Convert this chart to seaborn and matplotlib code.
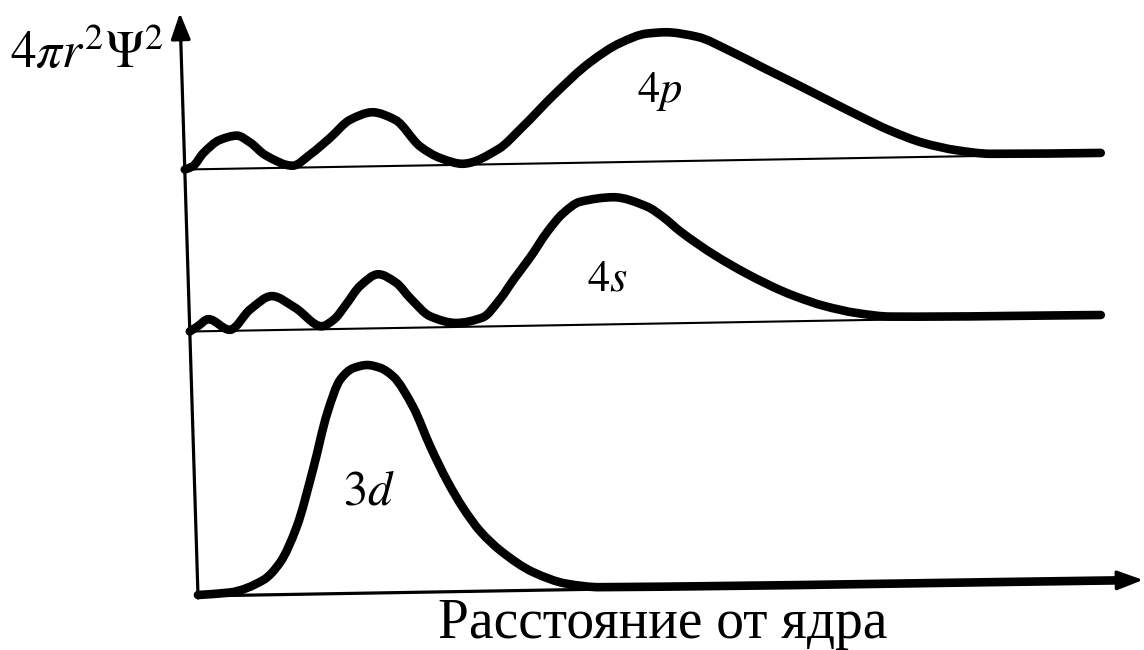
import numpy as np
import matplotlib
matplotlib.use("Agg")
import matplotlib.pyplot as plt
from matplotlib.path import Path
from matplotlib.patches import PathPatch
from matplotlib.transforms import Affine2D
import seaborn as sns

# Radial distribution 4πr²Ψ² (arbitrary units) versus distance from the nucleus.
# Heights are measured from each curve's own baseline.
r_3d = [0.00, 0.32, 0.66, 0.83, 1.01, 1.19, 1.35, 1.49, 1.62, 1.76, 1.89, 2.02,
        2.21, 2.37, 2.53, 2.68, 2.84, 3.04, 3.36, 3.69, 4.02, 9.22]
p_3d = [0.01, 0.03, 0.15, 0.32, 0.68, 1.25, 1.81, 2.14, 2.25, 2.28, 2.25, 2.16,
        1.85, 1.45, 1.10, 0.83, 0.60, 0.40, 0.18, 0.06, 0.02, 0.00]

r_4s = [0.00, 0.08, 0.19, 0.40, 0.61, 0.83, 1.06, 1.32, 1.45, 1.56, 1.72, 1.90,
        2.08, 2.21, 2.41, 2.67, 2.93, 3.11, 3.25, 3.43, 3.60, 3.77, 3.94, 4.27,
        4.61, 4.77, 4.93, 5.26, 5.59, 5.92, 6.06, 6.34, 6.68, 7.01, 9.11]
p_4s = [0.00, 0.05, 0.12, 0.01, 0.21, 0.34, 0.22, 0.03, 0.10, 0.23, 0.43, 0.54,
        0.45, 0.30, 0.11, 0.04, 0.09, 0.27, 0.46, 0.69, 0.93, 1.12, 1.23, 1.27,
        1.17, 1.06, 0.92, 0.68, 0.48, 0.31, 0.25, 0.15, 0.07, 0.03, 0.01]

r_4p = [0.00, 0.08, 0.19, 0.36, 0.53, 0.66, 0.81, 1.08, 1.26, 1.46, 1.67, 1.89,
        2.12, 2.36, 2.56, 2.78, 3.14, 3.38, 3.72, 4.08, 4.39, 4.66, 4.84, 5.16,
        5.49, 5.81, 6.08, 6.40, 6.74, 7.06, 7.39, 7.73, 8.06, 9.16]
p_4p = [0.00, 0.03, 0.16, 0.29, 0.33, 0.26, 0.13, 0.02, 0.13, 0.29, 0.47, 0.54,
        0.46, 0.19, 0.07, 0.01, 0.15, 0.36, 0.69, 1.00, 1.19, 1.28, 1.29, 1.24,
        1.09, 0.92, 0.78, 0.61, 0.43, 0.27, 0.14, 0.06, 0.02, 0.01]

baseline_3d = 0.0
baseline_4s = 2.645
baseline_4p = 4.265

orbital_names = ["3d", "4s", "4p"]
label_anchor_r = [1.48, 3.98, 4.54]
label_anchor_y = [0.89, 2.99, 4.86]

y_title = r"$4\pi r^2\Psi^2$"
x_title = "Расстояние от ядра"

sns.set_theme(style="white")
plt.rcParams["font.family"] = ["Liberation Serif", "DejaVu Serif"]
plt.rcParams["mathtext.fontset"] = "stix"


def smooth_path(x, y):
    """Monotone cubic (PCHIP-style) Bezier path through the given points."""
    x = np.asarray(x, float)
    y = np.asarray(y, float)
    d = np.diff(y) / np.diff(x)
    m = np.empty_like(x)
    m[0], m[-1] = d[0], d[-1]
    for i in range(1, len(x) - 1):
        if d[i - 1] * d[i] <= 0:
            m[i] = 0.0
        else:
            h0, h1 = x[i] - x[i - 1], x[i + 1] - x[i]
            w1, w2 = 2 * h1 + h0, h1 + 2 * h0
            m[i] = (w1 + w2) / (w1 / d[i - 1] + w2 / d[i])
    verts = [(x[0], y[0])]
    codes = [Path.MOVETO]
    for i in range(len(x) - 1):
        h = x[i + 1] - x[i]
        verts += [(x[i] + h / 3, y[i] + m[i] * h / 3),
                  (x[i + 1] - h / 3, y[i + 1] - m[i + 1] * h / 3),
                  (x[i + 1], y[i + 1])]
        codes += [Path.CURVE4] * 3
    return Path(verts, codes)


fig = plt.figure(figsize=(11.44, 6.5), dpi=100)
ax = fig.add_axes([198 / 1144, 54 / 650, 945 / 1144, 583 / 650])
ax.set_xlim(0, 9.45)
ax.set_ylim(0, 5.83)
ax.set_axis_off()

# the printed page sits slightly askew: lean every mark around the origin
ox, oy = ax.transAxes.transform((0, 0))
lean = Affine2D(np.array([[1.0, -0.031, 0.0],
                          [0.017, 1.0, 0.0],
                          [0.0, 0.0, 1.0]]))
tilt = Affine2D().translate(-ox, -oy) + lean + Affine2D().translate(ox, oy)
tr = ax.transData + tilt

# thin reference lines under the 4s and 4p curves
for base, r in [(baseline_4s, r_4s), (baseline_4p, r_4p)]:
    sns.lineplot(x=[0, r[-1]], y=[base, base], ax=ax, color="black",
                 linewidth=1.5, estimator=None)
    ln = ax.lines[-1]
    ln.set_transform(tr)
    ln.set_clip_on(False)

# coordinate axes with arrow heads
arrow = dict(arrowstyle="-|>,head_length=0.8,head_width=0.3", mutation_scale=20,
             lw=2.3, color="black", shrinkA=0, shrinkB=0)
ax.annotate("", xy=(9.45, 0), xytext=(0, 0), xycoords=tr, textcoords=tr,
            arrowprops=arrow, annotation_clip=False)
ax.annotate("", xy=(0, 5.83), xytext=(0, -0.02), xycoords=tr, textcoords=tr,
            arrowprops=arrow, annotation_clip=False)

# the three radial distribution curves
for r, p, base in [(r_3d, p_3d, baseline_3d),
                   (r_4s, p_4s, baseline_4s),
                   (r_4p, p_4p, baseline_4p)]:
    y = np.asarray(p) + base
    patch = PathPatch(smooth_path(r, y), facecolor="none", edgecolor="black",
                      linewidth=6.2, joinstyle="round", capstyle="round",
                      transform=tr, clip_on=False)
    ax.add_patch(patch)

label_sizes = [35, 32, 32]
for name, xr, yr, fs in zip(orbital_names, label_anchor_r, label_anchor_y, label_sizes):
    ax.text(xr, yr, "$" + name[0] + r"\mathit{" + name[1] + "}$", transform=tr,
            fontsize=fs, ha="left", va="baseline", color="black")

fig.text(10 / 1144, 1 - 68 / 650, y_title, fontsize=37, ha="left",
         va="baseline", color="black")
fig.text(438 / 1144, 12 / 650, x_title, fontsize=40, ha="left",
         va="baseline", color="black")

fig.savefig("out.png", dpi=100, facecolor="white")
